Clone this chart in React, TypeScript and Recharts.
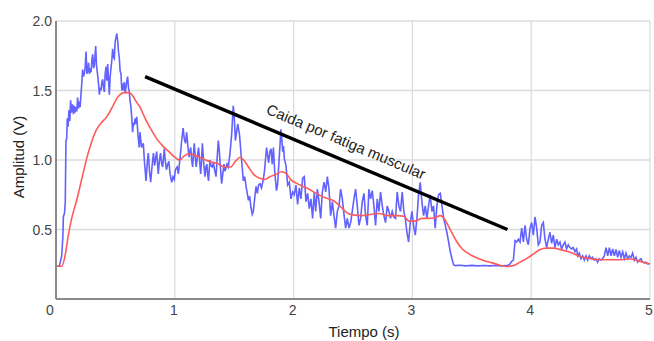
import { CartesianGrid, Label, Line, LineChart, ReferenceLine, XAxis, YAxis } from "recharts";

// time (s), amplitude (V) pairs
const blueRise: [number, number][] = [
  [0, 0.236], [0.028, 0.236], [0.048, 0.31], [0.058, 0.45], [0.062, 0.59], [0.072, 0.62], [0.078, 0.7],
  [0.084, 1.14], [0.09, 1.15], [0.095, 1.3], [0.102, 1.24], [0.109, 1.36], [0.116, 1.28], [0.123, 1.43],
  [0.13, 1.34], [0.14, 1.4], [0.147, 1.33], [0.154, 1.39], [0.161, 1.34], [0.168, 1.38], [0.175, 1.35],
  [0.182, 1.45], [0.189, 1.37], [0.196, 1.42], [0.203, 1.38], [0.21, 1.47], [0.217, 1.55], [0.224, 1.65],
  [0.231, 1.6], [0.238, 1.62], [0.245, 1.66], [0.253, 1.78], [0.26, 1.62], [0.267, 1.64], [0.274, 1.7],
  [0.281, 1.62], [0.288, 1.66], [0.295, 1.63], [0.302, 1.72], [0.309, 1.76], [0.316, 1.66], [0.323, 1.68],
  [0.334, 1.82], [0.341, 1.68], [0.348, 1.63], [0.358, 1.55], [0.365, 1.47], [0.372, 1.52], [0.379, 1.5],
  [0.386, 1.56], [0.393, 1.58], [0.4, 1.52], [0.407, 1.49], [0.414, 1.62], [0.421, 1.67], [0.428, 1.57],
  [0.435, 1.69], [0.442, 1.58], [0.449, 1.47], [0.456, 1.6], [0.463, 1.66], [0.47, 1.72], [0.477, 1.8],
  [0.484, 1.74], [0.491, 1.73], [0.498, 1.85], [0.505, 1.88], [0.512, 1.91], [0.519, 1.86], [0.526, 1.78],
  [0.533, 1.73], [0.54, 1.64], [0.547, 1.62], [0.554, 1.5], [0.561, 1.55], [0.568, 1.5], [0.575, 1.56],
  [0.582, 1.48], [0.589, 1.52], [0.596, 1.57], [0.603, 1.6], [0.61, 1.52], [0.617, 1.49], [0.624, 1.42],
  [0.631, 1.38], [0.638, 1.3], [0.645, 1.2], [0.652, 1.27], [0.659, 1.25], [0.666, 1.3], [0.673, 1.26],
  [0.68, 1.31], [0.69, 1.18], [0.7, 1.09],
];

const bluePlateau: [number, number][] = [
  [0.707, 1.2], [0.72, 1.09], [0.735, 1.12], [0.745, 0.98], [0.758, 0.85], [0.768, 0.98], [0.777, 1.05],
  [0.787, 0.92], [0.797, 0.84], [0.808, 0.95], [0.82, 1.05], [0.83, 0.96], [0.847, 1.06], [0.855, 0.97],
  [0.861, 0.9], [0.87, 0.99], [0.88, 1.05], [0.89, 0.97], [0.898, 0.95], [0.905, 1.02], [0.912, 1.08],
  [0.92, 0.99], [0.93, 0.93], [0.94, 0.97], [0.95, 0.99], [0.96, 0.9], [0.974, 0.84], [0.985, 0.88],
  [0.995, 0.86], [1.005, 0.93], [1.02, 0.95], [1.03, 0.9], [1.045, 1.02], [1.058, 1.14], [1.07, 1.23],
  [1.08, 1.15], [1.09, 1.12], [1.1, 1.2], [1.11, 1.1], [1.12, 1.02], [1.127, 1.06], [1.134, 1.09],
  [1.142, 1.0], [1.15, 0.95], [1.157, 1.04], [1.164, 1.12], [1.172, 1.02], [1.18, 0.95], [1.19, 1.02],
  [1.2, 1.09], [1.21, 0.98], [1.218, 0.9], [1.225, 1.0], [1.232, 1.12], [1.243, 0.98], [1.254, 0.88],
  [1.262, 0.95], [1.27, 0.97], [1.276, 0.9], [1.284, 0.85], [1.29, 0.93], [1.296, 1.0], [1.305, 0.96],
  [1.315, 0.95], [1.325, 0.98], [1.335, 0.93], [1.347, 0.88], [1.357, 1.02], [1.366, 1.14], [1.375, 1.06],
  [1.384, 0.95], [1.394, 0.83], [1.404, 0.9], [1.414, 0.97], [1.422, 0.92], [1.43, 0.94], [1.44, 0.97],
  [1.45, 0.95],
];

const blueDecline: [number, number][] = [
  [1.465, 1.05], [1.479, 1.19], [1.492, 1.39], [1.5, 1.32], [1.51, 1.14], [1.52, 1.2], [1.53, 1.26],
  [1.545, 1.18], [1.557, 1.05], [1.567, 0.95], [1.577, 0.85], [1.588, 0.88], [1.6, 0.81], [1.61, 0.76],
  [1.62, 0.71], [1.63, 0.74], [1.641, 0.66], [1.652, 0.61], [1.661, 0.63], [1.672, 0.72], [1.684, 0.81],
  [1.695, 0.76], [1.705, 0.82], [1.717, 0.83], [1.73, 0.8], [1.745, 0.86], [1.755, 0.92], [1.765, 1.02],
  [1.773, 1.09], [1.78, 1.04], [1.79, 0.98], [1.8, 1.06], [1.81, 1.08], [1.82, 0.97], [1.83, 1.09],
  [1.84, 0.93], [1.848, 0.85], [1.856, 0.78], [1.865, 0.82], [1.875, 0.96], [1.885, 1.1], [1.893, 1.22],
  [1.9, 1.16], [1.908, 1.06], [1.915, 1.1], [1.922, 1.01], [1.936, 0.96], [1.95, 0.82], [1.964, 0.84],
  [1.978, 0.72], [1.992, 0.77], [2.006, 0.75], [2.02, 0.82], [2.034, 0.68], [2.048, 0.8], [2.062, 0.72],
  [2.076, 0.87], [2.09, 0.88], [2.104, 0.7], [2.118, 0.76], [2.132, 0.65], [2.146, 0.72], [2.16, 0.58],
  [2.174, 0.77], [2.186, 0.63], [2.2, 0.79], [2.214, 0.7], [2.228, 0.58], [2.242, 0.77], [2.256, 0.84],
  [2.27, 0.77], [2.284, 0.88], [2.298, 0.79], [2.312, 0.6], [2.326, 0.7], [2.34, 0.6], [2.354, 0.51],
  [2.368, 0.63], [2.382, 0.67], [2.396, 0.79], [2.41, 0.72], [2.424, 0.61], [2.438, 0.51], [2.452, 0.58],
  [2.466, 0.51], [2.48, 0.55], [2.494, 0.63], [2.508, 0.72], [2.522, 0.79], [2.536, 0.67], [2.55, 0.53],
  [2.564, 0.58], [2.578, 0.7], [2.592, 0.76], [2.606, 0.6], [2.62, 0.53], [2.634, 0.79], [2.648, 0.72],
  [2.662, 0.78], [2.676, 0.67], [2.69, 0.53], [2.704, 0.72], [2.718, 0.63], [2.732, 0.77], [2.746, 0.67],
  [2.76, 0.6], [2.774, 0.55], [2.788, 0.67], [2.802, 0.63], [2.816, 0.58], [2.83, 0.63], [2.844, 0.59],
  [2.858, 0.58], [2.872, 0.77], [2.886, 0.67], [2.9, 0.63], [2.914, 0.77], [2.928, 0.63], [2.94, 0.58],
  [2.954, 0.48], [2.968, 0.41], [2.982, 0.55], [2.996, 0.63], [3.01, 0.53], [3.024, 0.46], [3.038, 0.58],
  [3.052, 0.75], [3.066, 0.84], [3.08, 0.7], [3.094, 0.6], [3.108, 0.67], [3.122, 0.58], [3.136, 0.67],
  [3.15, 0.75], [3.164, 0.63], [3.178, 0.67], [3.192, 0.51], [3.206, 0.67], [3.22, 0.75], [3.235, 0.76],
  [3.249, 0.67], [3.263, 0.58], [3.277, 0.53], [3.29, 0.48], [3.305, 0.41], [3.319, 0.34], [3.333, 0.29],
  [3.347, 0.246],
];

const blueRest: [number, number][] = [
  [3.36, 0.24], [3.4, 0.243], [3.45, 0.238], [3.5, 0.242], [3.55, 0.238], [3.6, 0.241], [3.65, 0.238],
  [3.7, 0.241], [3.75, 0.238], [3.8, 0.24], [3.82, 0.25], [3.835, 0.27], [3.85, 0.28],
];

const blueRecovery: [number, number][] = [
  [3.864, 0.42], [3.878, 0.41], [3.892, 0.43], [3.906, 0.41], [3.92, 0.51], [3.934, 0.41], [3.948, 0.53],
  [3.962, 0.43], [3.976, 0.39], [3.99, 0.51], [4.004, 0.55], [4.018, 0.46], [4.032, 0.59], [4.046, 0.51],
  [4.06, 0.39], [4.074, 0.41], [4.088, 0.53], [4.102, 0.55], [4.116, 0.43], [4.13, 0.37], [4.144, 0.43],
  [4.158, 0.48], [4.172, 0.4], [4.186, 0.46], [4.2, 0.37], [4.214, 0.43], [4.228, 0.39], [4.242, 0.41],
  [4.256, 0.36], [4.27, 0.39], [4.284, 0.41], [4.298, 0.36], [4.312, 0.39], [4.326, 0.37], [4.34, 0.36],
  [4.354, 0.37], [4.368, 0.34], [4.382, 0.36], [4.391, 0.31], [4.405, 0.33], [4.419, 0.29], [4.433, 0.31],
  [4.447, 0.28], [4.461, 0.31], [4.475, 0.28], [4.489, 0.31], [4.503, 0.29], [4.517, 0.3], [4.531, 0.28],
  [4.545, 0.29], [4.559, 0.265], [4.573, 0.29], [4.587, 0.28], [4.601, 0.29], [4.615, 0.31], [4.63, 0.37],
  [4.644, 0.31], [4.658, 0.37], [4.672, 0.31], [4.686, 0.36], [4.7, 0.31], [4.714, 0.356], [4.728, 0.3],
  [4.742, 0.35], [4.756, 0.3], [4.77, 0.34], [4.784, 0.29], [4.798, 0.33], [4.812, 0.29], [4.826, 0.31],
  [4.84, 0.3], [4.854, 0.33], [4.868, 0.28], [4.882, 0.3], [4.896, 0.265], [4.91, 0.28], [4.924, 0.29],
  [4.938, 0.265], [4.952, 0.26], [4.966, 0.265], [4.98, 0.253], [4.994, 0.253],
];

// smoothed envelope
const redEnvelope: [number, number][] = [
  [0, 0.236], [0.05, 0.236], [0.076, 0.31], [0.104, 0.46], [0.132, 0.58], [0.174, 0.71], [0.216, 0.86],
  [0.258, 1.01], [0.3, 1.13], [0.342, 1.22], [0.384, 1.27], [0.426, 1.31], [0.455, 1.35], [0.48, 1.39],
  [0.51, 1.44], [0.54, 1.47], [0.57, 1.485], [0.61, 1.485], [0.64, 1.47], [0.675, 1.42], [0.707, 1.38],
  [0.75, 1.3], [0.8, 1.22], [0.85, 1.15], [0.9, 1.1], [0.95, 1.06], [1.0, 1.02], [1.04, 1.0], [1.08, 1.03],
  [1.12, 1.045], [1.16, 1.035], [1.21, 1.02], [1.26, 1.0], [1.31, 0.985], [1.36, 0.975], [1.4, 0.955],
  [1.44, 0.95], [1.47, 0.95], [1.51, 0.99], [1.55, 1.02], [1.58, 1.0], [1.62, 0.95], [1.66, 0.9],
  [1.71, 0.87], [1.76, 0.86], [1.8, 0.88], [1.85, 0.895], [1.9, 0.915], [1.94, 0.9], [1.98, 0.855],
  [2.03, 0.83], [2.08, 0.81], [2.13, 0.79], [2.18, 0.765], [2.26, 0.73], [2.34, 0.705], [2.4, 0.66],
  [2.45, 0.62], [2.5, 0.605], [2.58, 0.6], [2.66, 0.61], [2.72, 0.615], [2.79, 0.6], [2.87, 0.6],
  [2.93, 0.595], [2.97, 0.56], [3.02, 0.56], [3.08, 0.58], [3.14, 0.58], [3.19, 0.585], [3.235, 0.6],
  [3.27, 0.575], [3.3, 0.53], [3.33, 0.48], [3.375, 0.41], [3.42, 0.36], [3.475, 0.325], [3.53, 0.3],
  [3.6, 0.277], [3.67, 0.26], [3.73, 0.245], [3.79, 0.234], [3.85, 0.24], [3.905, 0.265], [3.96, 0.29],
  [4.02, 0.325], [4.07, 0.355], [4.13, 0.366], [4.19, 0.366], [4.24, 0.357], [4.3, 0.343], [4.36, 0.325],
  [4.41, 0.306], [4.47, 0.296], [4.52, 0.287], [4.58, 0.282], [4.66, 0.282], [4.74, 0.282], [4.83, 0.29],
  [4.88, 0.28], [4.94, 0.265], [5.0, 0.253],
];

const xTicks = [0, 1, 2, 3, 4, 5];
const yTicks = [0.5, 1, 1.5, 2];
const fatigueStart = { x: 0.75, y: 1.6 };
const fatigueEnd = { x: 3.8, y: 0.5 };
const fatigueText = "Caida por fatiga muscular";

const FONT = "'Liberation Sans', Arial, sans-serif";

const toPoints = (pairs: [number, number][]) => pairs.map(([t, v]) => ({ t, v }));

const blueData = toPoints([...blueRise, ...bluePlateau, ...blueDecline, ...blueRest, ...blueRecovery]);
const redData = toPoints(redEnvelope);

function XTick({ x, y, payload }: any) {
  // the 0 label is nudged left so it clears the y axis
  const shift = payload.value === 0 ? -6 : -1;
  return (
    <text x={x + shift} y={y} dy={12} textAnchor="middle" fontSize={14} fill="#444" fontFamily={FONT}>
      {payload.value}
    </text>
  );
}

function YTick({ x, y, payload }: any) {
  return (
    <text x={x} y={y} dy={5} textAnchor="end" fontSize={14} fill="#444" fontFamily={FONT}>
      {Number(payload.value).toFixed(1)}
    </text>
  );
}

/**
 * Text that sits just above the fatigue line, rotated to follow it.
 */
function FatigueLabel({ viewBox }: any) {
  if (!viewBox) return null;
  const { x, y, width, height } = viewBox;
  const angle = (Math.atan2(height, width) * 180) / Math.PI;
  const len = Math.hypot(width, height);
  const ux = width / len;
  const uy = height / len;
  const along = len * 0.535;
  const lift = 13;
  const cx = x + ux * along + uy * lift;
  const cy = y + uy * along - ux * lift;
  return (
    <text
      transform={`translate(${cx},${cy}) rotate(${angle})`}
      textAnchor="middle"
      fontSize={15}
      fill="#222"
      fontFamily={FONT}
    >
      {fatigueText}
    </text>
  );
}

export default function App() {
  return (
    <div style={{ position: "absolute", left: 0, top: 0, background: "#fff" }}>
      <LineChart width={654} height={341} margin={{ top: 21, right: 4, bottom: 12, left: 0 }}>
        <CartesianGrid stroke="#dcdcdc" strokeWidth={1.3} />
        <XAxis
          dataKey="t"
          type="number"
          domain={[0, 5]}
          ticks={xTicks}
          height={30}
          tickSize={0}
          tickMargin={4}
          tickLine={false}
          axisLine={{ stroke: "#8a8a8a", strokeWidth: 2 }}
          tick={<XTick />}
          allowDataOverflow
        >
          <Label
            content={({ viewBox }: any) => (
              <text
                x={viewBox.x + viewBox.width / 2 + 11}
                y={viewBox.y + 38}
                textAnchor="middle"
                fontSize={15}
                fill="#222"
                fontFamily={FONT}
              >
                Tiempo (s)
              </text>
            )}
          />
        </XAxis>
        <YAxis
          type="number"
          domain={[0, 2]}
          ticks={yTicks}
          width={56}
          tickSize={0}
          tickMargin={4}
          tickLine={false}
          axisLine={{ stroke: "#8a8a8a", strokeWidth: 2 }}
          tick={<YTick />}
          allowDataOverflow
        >
          <Label
            content={({ viewBox }: any) => (
              <text
                transform={`translate(24,${viewBox.y + viewBox.height / 2 - 3}) rotate(-90)`}
                textAnchor="middle"
                fontSize={15}
                fill="#222"
                fontFamily={FONT}
              >
                Amplitud (V)
              </text>
            )}
          />
        </YAxis>
        <Line
          data={blueData}
          dataKey="v"
          type="linear"
          stroke="#6262ff"
          strokeWidth={1.6}
          dot={false}
          isAnimationActive={false}
        />
        <Line
          data={redData}
          dataKey="v"
          type="monotone"
          stroke="#ff5a5a"
          strokeWidth={1.6}
          dot={false}
          isAnimationActive={false}
        />
        <ReferenceLine
          segment={[fatigueStart, fatigueEnd]}
          stroke="#000"
          strokeWidth={3.5}
          ifOverflow="visible"
          label={<FatigueLabel />}
        />
      </LineChart>
    </div>
  );
}
